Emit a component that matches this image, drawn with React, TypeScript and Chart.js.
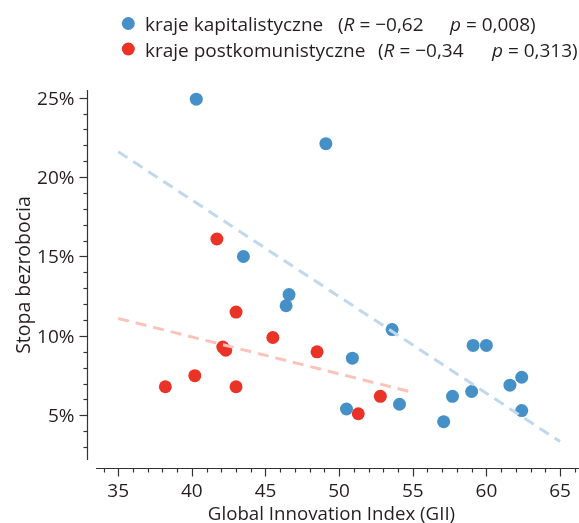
import { useEffect, useRef } from "react";
import { Chart, registerables } from "chart.js";

Chart.register(...registerables);

// ---- data ----
const capGII = [40.3, 49.1, 43.5, 46.6, 46.4, 53.6, 50.9, 59.1, 60.0, 62.4, 61.6, 57.7, 59.0, 54.1, 50.5, 62.4, 57.1];
const capUnemp = [24.9, 22.1, 15.0, 12.6, 11.9, 10.4, 8.6, 9.4, 9.4, 7.4, 6.9, 6.2, 6.5, 5.7, 5.4, 5.3, 4.6];
const postGII = [41.7, 43.0, 45.5, 42.1, 42.3, 48.5, 40.2, 38.2, 43.0, 51.3, 52.8];
const postUnemp = [16.1, 11.5, 9.9, 9.3, 9.1, 9.0, 7.5, 6.8, 6.8, 5.1, 6.2];
const capTrendX = [35, 65];
const capTrendY = [21.6, 3.35];
const postTrendX = [35, 55];
const postTrendY = [11.1, 6.45];
const xTicks = [35, 40, 45, 50, 55, 60, 65];
const yTicks = [5, 10, 15, 20, 25];
const seriesNames = ["kraje kapitalistyczne", "kraje postkomunistyczne"];
const seriesR = ["\u22120,62", "\u22120,34"];
const seriesP = ["0,008", "0,313"];
const xTitle = "Global Innovation Index (GII)";
const yTitle = "Stopa bezrobocia";

const BLUE = "#4590c7";
const RED = "#ea3327";
const BLUE_LIGHT = "#bfd8ed";
const RED_LIGHT = "#fbc3ba";
const TEXT = "#231f20";
const FONT = "'Open Sans', 'Noto Sans', sans-serif";

const pts = (xs: number[], ys: number[]) => xs.map((x, i) => ({ x, y: ys[i] }));

const offsetAxes = {
  id: "offsetAxes",
  afterDraw(chart: any) {
    const { ctx, chartArea, scales } = chart;
    const xs = scales.x;
    const ys = scales.y;
    ctx.save();
    ctx.strokeStyle = "#333";
    ctx.lineWidth = 1.2;
    const spineX = chartArea.left - 8.5;
    const spineY = chartArea.bottom + 8.5;
    // y spine
    ctx.beginPath();
    ctx.moveTo(spineX, chartArea.top);
    ctx.lineTo(spineX, chartArea.bottom);
    ctx.stroke();
    for (let v = Math.ceil(ys.min); v <= ys.max; v++) {
      const y = Math.round(ys.getPixelForValue(v)) + 0.5;
      const major = yTicks.includes(v);
      ctx.beginPath();
      ctx.moveTo(spineX - (major ? 8 : 4), y);
      ctx.lineTo(spineX, y);
      ctx.stroke();
    }
    // x spine
    ctx.beginPath();
    ctx.moveTo(chartArea.left, spineY);
    ctx.lineTo(chartArea.right, spineY);
    ctx.stroke();
    for (let v = Math.ceil(xs.min); v <= xs.max; v++) {
      const x = Math.round(xs.getPixelForValue(v)) + 0.5;
      const major = xTicks.includes(v);
      ctx.beginPath();
      ctx.moveTo(x, spineY);
      ctx.lineTo(x, spineY + (major ? 8 : 4));
      ctx.stroke();
    }
    // tick labels
    ctx.fillStyle = TEXT;
    ctx.font = `19px ${FONT}`;
    ctx.textAlign = "center";
    ctx.textBaseline = "alphabetic";
    xTicks.forEach((v) => {
      ctx.fillText(String(v), xs.getPixelForValue(v), 497);
    });
    ctx.textAlign = "right";
    yTicks.forEach((v) => {
      ctx.fillText(`${v}%`, spineX - 13, ys.getPixelForValue(v) + 7);
    });
    // titles
    ctx.font = `18.7px ${FONT}`;
    ctx.textAlign = "center";
    ctx.fillText(xTitle, 331.5, 520);
    ctx.save();
    ctx.translate(30, 275);
    ctx.rotate(-Math.PI / 2);
    ctx.font = `19.5px ${FONT}`;
    ctx.fillText(yTitle, 0, 0);
    ctx.restore();
    // legend
    const rows = [
      { color: BLUE, cy: 23.5, base: 30.5, parenX: 338, pX: 450 },
      { color: RED, cy: 49, base: 56.5, parenX: 378, pX: 492 },
    ];
    rows.forEach((r, i) => {
      ctx.fillStyle = r.color;
      ctx.beginPath();
      ctx.arc(128.3, r.cy, 6.5, 0, Math.PI * 2);
      ctx.fill();
      ctx.fillStyle = TEXT;
      ctx.textAlign = "left";
      ctx.font = `19px ${FONT}`;
      ctx.fillText(seriesNames[i], 145, r.base);
      let x = r.parenX;
      const seg = (t: string, italic: boolean) => {
        ctx.font = `${italic ? "italic " : ""}19px ${FONT}`;
        ctx.fillText(t, x, r.base);
        x += ctx.measureText(t).width;
      };
      seg("(", false);
      seg("R", true);
      seg(" = " + seriesR[i], false);
      x = r.pX;
      seg("p", true);
      seg(" = " + seriesP[i] + ")", false);
    });
    ctx.restore();
  },
};

export default function App() {
  const ref = useRef<HTMLCanvasElement>(null);
  useEffect(() => {
    if (!ref.current) return;
    const chart = new Chart(ref.current, {
      type: "scatter",
      data: {
        datasets: [
          {
            label: "capTrend",
            data: pts(capTrendX, capTrendY),
            showLine: true,
            borderColor: BLUE_LIGHT,
            borderWidth: 3,
            borderDash: [11, 7],
            pointRadius: 0,
            order: 0,
          },
          {
            label: "postTrend",
            data: pts(postTrendX, postTrendY),
            showLine: true,
            borderColor: RED_LIGHT,
            borderWidth: 3,
            borderDash: [11, 7],
            pointRadius: 0,
            order: 0,
          },
          {
            label: seriesNames[0],
            data: pts(capGII, capUnemp),
            backgroundColor: BLUE,
            borderWidth: 0,
            pointRadius: 6.5,
            order: 1,
          },
          {
            label: seriesNames[1],
            data: pts(postGII, postUnemp),
            backgroundColor: RED,
            borderWidth: 0,
            pointRadius: 6.5,
            order: 1,
          },
        ],
      },
      options: {
        animation: false,
        responsive: false,
        layout: { autoPadding: false, padding: { left: 96, right: 0, top: 90, bottom: 63 } },
        scales: {
          x: { type: "linear", min: 33.49, max: 66.29, display: false },
          y: { type: "linear", min: 2.19, max: 25.48, display: false },
        },
        plugins: { legend: { display: false }, tooltip: { enabled: false } },
      },
      plugins: [offsetAxes],
    });
    return () => chart.destroy();
  }, []);
  return (
    <canvas
      ref={ref}
      width={579}
      height={523}
      style={{ position: "absolute", left: 0, top: 0, width: 579, height: 523 }}
    />
  );
}
